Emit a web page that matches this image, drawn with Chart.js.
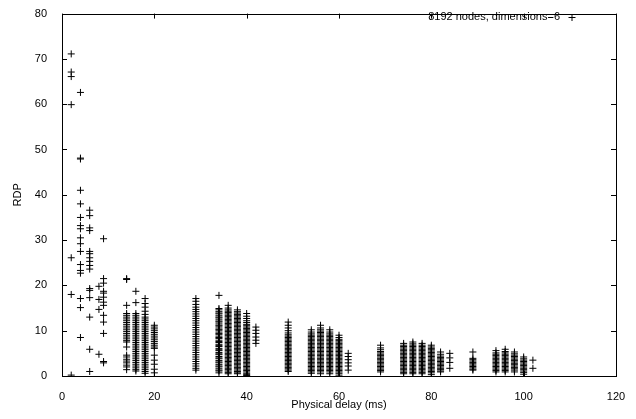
<!DOCTYPE html>
<html>
<head>
<meta charset="utf-8">
<script src="https://cdn.jsdelivr.net/npm/chart.js@4.4.1/dist/chart.umd.min.js"></script>
<style>
  html, body { margin: 0; padding: 0; background: #fff; }
  #wrap { width: 636px; height: 419px; }
</style>
</head>
<body>
<div id="wrap"><canvas id="rdpChart" width="636" height="419"></canvas></div>
<script>
// measured columns of delay (ms) and the RDP values seen in each column
const c2 = [71.1, 67.1, 66.1, 59.9, 26.1, 18.0, 0.2];
const c4 = [62.6, 48.1, 47.9, 41.0, 38.0, 35.0, 33.2, 32.5, 30.5, 29.2, 27.5, 24.6, 23.3, 22.7, 17.1, 15.1, 8.5];
const c6 = [36.6, 35.4, 32.7, 32.1, 27.5, 27.0, 26.1, 25.3, 24.4, 23.6, 19.3, 18.9, 17.3, 13.0, 5.9, 1.0];
const c8 = [19.8, 16.9, 14.7, 4.8];
const c9 = [30.3, 21.5, 20.5, 18.7, 18.3, 17.4, 16.3, 15.6, 13.4, 11.9, 9.4, 3.2, 2.9];
const c14 = [21.5, 21.3, 15.6, 13.8, 13.4, 13.0, 12.6, 12.2, 11.8, 11.4, 11.0, 10.6, 10.2, 9.8, 9.4, 9.0, 8.6, 8.2, 7.8, 7.5,
  6.4, 4.6, 4.2, 3.7, 3.3, 2.9, 2.4, 2.0, 1.4];
const c16 = [18.7, 16.2, 13.8, 13.4, 13.0, 12.6, 12.2, 11.8, 11.4, 11.0, 10.6, 10.2, 9.8, 9.4, 9.0, 8.6, 8.2, 7.8, 7.4, 7.0,
  6.6, 6.2, 5.8, 5.4, 5.0, 4.6, 4.2, 3.8, 3.4, 3.0, 2.6, 2.2, 1.8, 1.4, 1.1];
const c18 = [17.1, 16.0, 15.2, 14.3, 13.6, 13.0, 12.6, 12.2, 11.8, 11.4, 11.0, 10.6, 10.2, 9.8, 9.4, 9.0, 8.6, 8.2, 7.8,
  7.4, 7.0, 6.6, 6.2, 5.8, 5.4, 5.0, 4.6, 4.2, 3.8, 3.4, 3.0, 2.6, 2.2, 1.8, 1.4, 1.0, 0.6];
const c20 = [11.2, 10.8, 10.4, 10.0, 9.6, 9.2, 8.8, 8.4, 8.0, 7.6, 7.2, 6.8, 6.4, 6.1, 4.6, 3.5, 2.6, 1.5, 0.7];
const c29 = [17.1, 16.5, 15.8, 15.2, 14.7, 14.2, 13.7, 13.2, 12.7, 12.2, 11.7, 11.2, 10.7, 10.2, 9.7, 9.2, 8.7, 8.2, 7.7,
  7.2, 6.7, 6.2, 5.7, 5.2, 4.7, 4.2, 3.7, 3.2, 2.7, 2.2, 1.7, 1.3];
const c34 = [17.8, 14.9, 14.6, 14.2, 13.9, 13.7, 13.3, 13.0, 12.8, 12.4, 12.1, 11.9, 11.5, 11.2, 11.0, 10.6, 10.3, 10.1,
  9.7, 9.4, 9.2, 8.8, 8.5, 8.3, 7.9, 7.6, 7.4, 7.0, 6.7, 6.5, 6.1, 5.8, 5.6, 5.2, 4.9, 4.7, 4.3, 4.0, 3.8, 3.4, 3.1,
  2.9, 2.5, 2.2, 2.0, 1.6, 1.3, 1.1, 0.7];
const c36 = [15.6, 15.0, 14.6, 14.3, 14.0, 13.7, 13.4, 13.1, 12.8, 12.5, 12.2, 11.9, 11.6, 11.3, 11.0, 10.7, 10.4, 10.1,
  9.8, 9.5, 9.2, 8.9, 8.6, 8.3, 8.0, 7.7, 7.4, 7.1, 6.8, 6.5, 6.2, 5.9, 5.6, 5.3, 5.0, 4.7, 4.4, 4.1, 3.8, 3.5, 3.2,
  2.9, 2.6, 2.3, 2.0, 1.7, 1.4, 1.1, 0.8, 0.5];
const c38 = [14.6, 14.2, 13.9, 13.6, 13.3, 13.0, 12.7, 12.4, 12.1, 11.8, 11.5, 11.2, 10.9, 10.6, 10.3, 10.0, 9.7, 9.4,
  9.1, 8.8, 8.5, 8.2, 7.9, 7.6, 7.3, 7.0, 6.7, 6.4, 6.1, 5.8, 5.5, 5.2, 4.9, 4.6, 4.3, 4.0, 3.7, 3.4, 3.1, 2.8, 2.5,
  2.2, 1.9, 1.6, 1.3, 1.0, 0.7, 0.5];
const c40 = [13.8, 13.2, 12.7, 12.2, 11.8, 11.4, 11.1, 10.8, 10.5, 10.2, 9.9, 9.6, 9.3, 9.0, 8.7, 8.4, 8.1, 7.8, 7.5,
  7.2, 6.9, 6.6, 6.3, 6.0, 5.7, 5.4, 5.1, 4.8, 4.5, 4.2, 3.9, 3.6, 3.3, 3.0, 2.7, 2.4, 2.1, 1.8, 1.5, 1.2, 0.9, 0.6,
  0.3, 0.1];
const c42 = [10.8, 10.1, 9.4, 8.6, 7.9, 7.2];
const c49 = [11.9, 11.2, 10.6, 10.0, 9.5, 9.1, 8.8, 8.5, 8.2, 7.9, 7.6, 7.3, 7.0, 6.7, 6.4, 6.1, 5.8, 5.5, 5.2, 4.9,
  4.6, 4.3, 4.0, 3.7, 3.4, 3.1, 2.8, 2.5, 2.2, 1.9, 1.6, 1.3, 1.0];
const c54 = [10.2, 9.7, 9.3, 9.0, 8.7, 8.4, 8.1, 7.8, 7.5, 7.2, 6.9, 6.6, 6.3, 6.0, 5.7, 5.4, 5.1, 4.8, 4.5, 4.2,
  3.9, 3.6, 3.3, 3.0, 2.7, 2.4, 2.1, 1.8, 1.5, 1.2, 0.9, 0.6];
const c56 = [11.2, 10.6, 10.2, 9.9, 9.6, 9.3, 9.0, 8.7, 8.4, 8.1, 7.8, 7.5, 7.2, 6.9, 6.6, 6.3, 6.0, 5.7, 5.4, 5.1,
  4.8, 4.5, 4.2, 3.9, 3.6, 3.3, 3.0, 2.7, 2.4, 2.1, 1.8, 1.5, 1.2, 0.9, 0.5];
const c58 = [10.2, 9.7, 9.3, 9.0, 8.7, 8.4, 8.1, 7.8, 7.5, 7.2, 6.9, 6.6, 6.3, 6.0, 5.7, 5.4, 5.1, 4.8, 4.5, 4.2,
  3.9, 3.6, 3.3, 3.0, 2.7, 2.4, 2.1, 1.8, 1.5, 1.2, 0.9, 0.5];
const c60 = [9.0, 8.5, 8.1, 7.8, 7.5, 7.2, 6.9, 6.6, 6.3, 6.0, 5.7, 5.4, 5.1, 4.8, 4.5, 4.2, 3.9, 3.6, 3.3, 3.0,
  2.7, 2.4, 2.1, 1.8, 1.5, 1.2, 0.9, 0.6, 0.2];
const c62 = [5.0, 4.3, 3.6, 2.9, 2.2, 1.3];
const c69 = [6.8, 6.2, 5.8, 5.4, 5.1, 4.8, 4.5, 4.2, 3.9, 3.6, 3.3, 3.0, 2.7, 2.4, 2.1, 1.8, 1.5, 1.2, 0.9];
const c74 = [7.2, 6.8, 6.5, 6.2, 5.9, 5.6, 5.3, 5.0, 4.7, 4.4, 4.1, 3.8, 3.5, 3.2, 2.9, 2.6, 2.3, 2.0, 1.7, 1.4,
  1.1, 0.8, 0.5];
const c76 = [7.5, 7.1, 6.8, 6.5, 6.2, 5.9, 5.6, 5.3, 5.0, 4.7, 4.4, 4.1, 3.8, 3.5, 3.2, 2.9, 2.6, 2.3, 2.0, 1.7,
  1.4, 1.1, 0.8, 0.5];
const c78 = [7.2, 6.8, 6.5, 6.2, 5.9, 5.6, 5.3, 5.0, 4.7, 4.4, 4.1, 3.8, 3.5, 3.2, 2.9, 2.6, 2.3, 2.0, 1.7, 1.4,
  1.1, 0.8, 0.5];
const c80 = [6.8, 6.4, 6.1, 5.8, 5.5, 5.2, 4.9, 4.6, 4.3, 4.0, 3.7, 3.4, 3.1, 2.8, 2.5, 2.2, 1.9, 1.6, 1.3, 1.0,
  0.7, 0.3];
const c82 = [5.3, 4.8, 4.4, 4.1, 3.8, 3.5, 3.2, 2.9, 2.6, 2.3, 2.0, 1.7, 1.4, 1.1, 0.9];
const c84 = [5.0, 4.0, 3.0, 1.7];
const c89 = [5.3, 3.9, 3.6, 3.3, 3.0, 2.7, 2.4, 2.1, 1.8, 1.5, 1.3];
const c94 = [5.6, 5.1, 4.8, 4.5, 4.2, 3.9, 3.6, 3.3, 3.0, 2.7, 2.4, 2.1, 1.8, 1.5, 1.2, 0.9];
const c96 = [5.9, 5.4, 5.1, 4.8, 4.5, 4.2, 3.9, 3.6, 3.3, 3.0, 2.7, 2.4, 2.1, 1.8, 1.5, 1.2, 0.9];
const c98 = [5.3, 4.9, 4.6, 4.3, 4.0, 3.7, 3.4, 3.1, 2.8, 2.5, 2.2, 1.9, 1.6, 1.3, 0.9];
const c100 = [4.2, 3.8, 3.5, 3.2, 2.9, 2.6, 2.3, 2.0, 1.7, 1.4, 1.1, 0.8, 0.4];
const c102 = [3.5, 1.7];

const delays = [2, 4, 6, 8, 9, 14, 16, 18, 20, 29, 34, 36, 38, 40, 42, 49, 54, 56, 58, 60, 62,
  69, 74, 76, 78, 80, 82, 84, 89, 94, 96, 98, 100, 102];
const rdpCols = [c2, c4, c6, c8, c9, c14, c16, c18, c20, c29, c34, c36, c38, c40, c42, c49, c54, c56, c58, c60, c62,
  c69, c74, c76, c78, c80, c82, c84, c89, c94, c96, c98, c100, c102];

const xTicks = [0, 20, 40, 60, 80, 100, 120];
const yTicks = [0, 10, 20, 30, 40, 50, 60, 70, 80];
const seriesLabel = "8192 nodes, dimensions=6";

const FONT = "'Liberation Sans', Arial, sans-serif";

function buildPoints() {
  const pts = [];
  delays.forEach((x, i) => {
    rdpCols[i].forEach(y => pts.push({ x: x, y: y }));
  });
  return pts;
}

// gnuplot style box, inward ticks on all four sides, key in the top right
const gnuplotFrame = {
  id: "gnuplotFrame",
  afterDraw(chart) {
    const c = chart.ctx;
    const a = chart.chartArea;
    const xs = chart.scales.x;
    const ys = chart.scales.y;
    const len = 5;
    c.save();
    c.strokeStyle = "#000";
    c.lineWidth = 1;
    c.beginPath();
    xTicks.forEach(v => {
      const px = Math.round(xs.getPixelForValue(v)) + 0.5;
      c.moveTo(px, a.bottom); c.lineTo(px, a.bottom - len);
      c.moveTo(px, a.top); c.lineTo(px, a.top + len);
    });
    yTicks.forEach(v => {
      const py = Math.round(ys.getPixelForValue(v)) + 0.5;
      c.moveTo(a.left, py); c.lineTo(a.left + len, py);
      c.moveTo(a.right, py); c.lineTo(a.right - len, py);
    });
    c.stroke();
    c.strokeRect(Math.round(a.left) + 0.5, Math.round(a.top) + 0.5,
      Math.round(a.right - a.left), Math.round(a.bottom - a.top));

    // key
    c.fillStyle = "#000";
    c.font = "11px " + FONT;
    c.textAlign = "right";
    c.textBaseline = "middle";
    c.fillText(seriesLabel, 560, 17);
    c.beginPath();
    c.moveTo(568.5, 17.5); c.lineTo(575.5, 17.5);
    c.moveTo(572, 14); c.lineTo(572, 21);
    c.stroke();
    c.restore();
  }
};

new Chart(document.getElementById("rdpChart").getContext("2d"), {
  type: "scatter",
  data: {
    datasets: [{
      label: seriesLabel,
      data: buildPoints(),
      pointStyle: "cross",
      pointRadius: 3.5,
      pointHoverRadius: 3.5,
      borderColor: "#000",
      backgroundColor: "#000",
      borderWidth: 1,
    }],
  },
  options: {
    responsive: false,
    animation: false,
    events: [],
    layout: { padding: { left: 0, right: 20, top: 12, bottom: 0 } },
    plugins: {
      legend: { display: false },
      tooltip: { enabled: false },
    },
    scales: {
      x: {
        type: "linear",
        min: 0,
        max: 120,
        afterFit: (s) => { s.height = 43; },
        afterBuildTicks: (s) => { s.ticks = xTicks.map(v => ({ value: v })); },
        grid: { display: false },
        border: { display: false },
        ticks: { color: "#000", padding: 6, maxRotation: 0, font: { family: FONT, size: 11 } },
        title: {
          display: true,
          text: "Physical delay (ms)",
          color: "#000",
          font: { family: FONT, size: 11 },
          padding: { top: 0, bottom: 7 },
        },
      },
      y: {
        type: "linear",
        min: 0,
        max: 80,
        afterFit: (s) => { s.width = 62; },
        afterBuildTicks: (s) => { s.ticks = yTicks.map(v => ({ value: v })); },
        grid: { display: false },
        border: { display: false },
        ticks: { color: "#000", padding: 7, font: { family: FONT, size: 11 } },
        title: {
          display: true,
          text: "RDP",
          color: "#000",
          font: { family: FONT, size: 11 },
          padding: { top: 11, bottom: 0 },
        },
      },
    },
  },
  plugins: [gnuplotFrame],
});
</script>
</body>
</html>
